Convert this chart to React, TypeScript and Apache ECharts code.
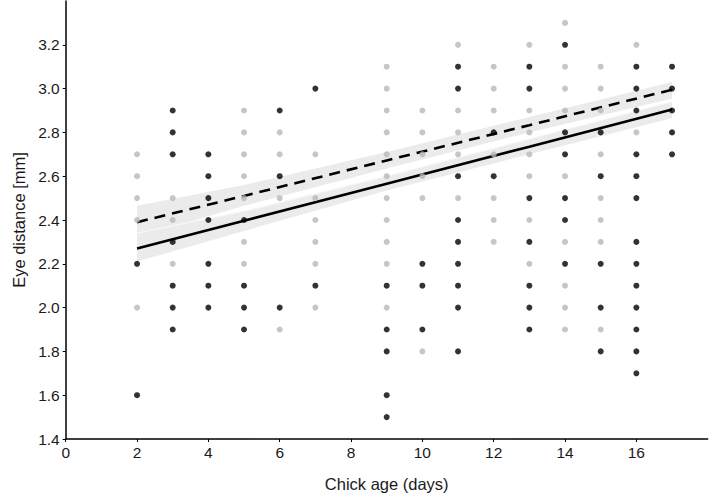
import React, { useEffect, useRef } from "react";
import * as echarts from "echarts";

// Chick age (days) for each column of points
const days = [2, 3, 4, 5, 6, 7, 9, 10, 11, 12, 13, 14, 15, 16, 17];

// Eye distance values (mm), black group, per day
const blackValues: number[][] = [
  [2.2, 1.6],
  [2.9, 2.8, 2.7, 2.3, 2.1, 2.0, 1.9],
  [2.7, 2.6, 2.5, 2.4, 2.2, 2.1, 2.0],
  [2.4, 2.1, 2.0, 1.9],
  [2.9, 2.6, 2.0],
  [3.0, 2.1],
  [2.1, 1.9, 1.8, 1.6, 1.5],
  [2.2, 2.1, 1.9],
  [3.1, 3.0, 2.6, 2.4, 2.3, 2.2, 2.1, 2.0, 1.8],
  [2.8, 2.6],
  [3.1, 3.0, 2.5, 2.3, 2.1, 2.0, 1.9],
  [3.2, 2.8, 2.7, 2.5, 2.4, 2.2],
  [2.8, 2.6, 2.2, 2.0, 1.8],
  [3.1, 3.0, 2.9, 2.7, 2.6, 2.5, 2.3, 2.2, 2.1, 2.0, 1.9, 1.8, 1.7],
  [3.1, 3.0, 2.9, 2.8, 2.7],
];

// Eye distance values (mm), grey group, per day
const greyValues: number[][] = [
  [2.7, 2.6, 2.5, 2.4, 2.0],
  [2.5, 2.4, 2.2],
  [],
  [2.9, 2.8, 2.7, 2.6, 2.5, 2.3, 2.2],
  [2.8, 2.7, 2.5, 1.9],
  [2.7, 2.5, 2.4, 2.3, 2.2, 2.0],
  [3.1, 3.0, 2.9, 2.8, 2.7, 2.6, 2.5, 2.4, 2.3, 2.2, 2.0],
  [2.9, 2.8, 2.7, 2.6, 2.5, 1.8],
  [3.2, 2.9, 2.8, 2.7, 2.5],
  [3.1, 3.0, 2.9, 2.7, 2.5, 2.4, 2.3],
  [3.2, 2.9, 2.8, 2.7, 2.6, 2.4, 2.2],
  [3.3, 3.1, 3.0, 2.9, 2.6, 2.3, 2.1, 2.0, 1.9],
  [3.1, 3.0, 2.9, 2.7, 2.5, 2.4, 2.3, 1.9],
  [3.2, 2.8],
  [],
];

// Fitted lines and confidence bands
const fitX = [2, 5, 9, 13, 17];
const solidFit = [2.27, 2.397, 2.566, 2.735, 2.905];
const solidLow = [2.21, 2.35, 2.535, 2.7, 2.865];
const solidHigh = [2.34, 2.44, 2.6, 2.77, 2.94];
const dashedFit = [2.39, 2.51, 2.672, 2.833, 2.995];
const dashedLow = [2.32, 2.465, 2.635, 2.8, 2.955];
const dashedHigh = [2.465, 2.56, 2.71, 2.87, 3.03];

const xTicks = [0, 2, 4, 6, 8, 10, 12, 14, 16];
const yTicks = [1.4, 1.6, 1.8, 2.0, 2.2, 2.4, 2.6, 2.8, 3.0, 3.2];

const FONT = "'Liberation Sans', Arial, sans-serif";

function toPoints(vals: number[][]): number[][] {
  const out: number[][] = [];
  vals.forEach((col, i) => col.forEach((v) => out.push([days[i], v])));
  return out;
}

function bandSeries(low: number[], high: number[], color: string) {
  return {
    type: "custom",
    silent: true,
    z: 1,
    data: [0],
    renderItem: (_params: any, api: any) => {
      const pts: number[][] = [];
      fitX.forEach((x, i) => pts.push(api.coord([x, high[i]])));
      for (let i = fitX.length - 1; i >= 0; i--) pts.push(api.coord([fitX[i], low[i]]));
      return { type: "polygon", shape: { points: pts }, style: { fill: color } };
    },
  };
}

export default function App() {
  const ref = useRef<HTMLDivElement>(null);
  useEffect(() => {
    if (!ref.current) return;
    const chart = echarts.init(ref.current, null, { renderer: "svg" });
    const axisCommon = {
      axisLine: { show: true, lineStyle: { color: "#000", width: 1.5 } },
      splitLine: { show: false },
      nameTextStyle: { fontFamily: FONT, fontSize: 16.5, color: "#1a1a1a" },
    };
    chart.setOption({
      animation: false,
      backgroundColor: "#fff",
      grid: { left: 65.7, top: 1, width: 642, height: 438, containLabel: false },
      xAxis: {
        ...axisCommon,
        type: "value",
        min: 0,
        max: 18,
        interval: 2,
        name: "Chick age (days)",
        nameLocation: "middle",
        nameGap: 36,
        axisTick: { show: true, length: 3, customValues: xTicks, lineStyle: { color: "#000" } },
        axisLabel: {
          customValues: xTicks,
          fontFamily: FONT,
          fontSize: 15.5,
          color: "#1a1a1a",
          margin: 5,
        },
      },
      yAxis: {
        ...axisCommon,
        type: "value",
        min: 1.4,
        max: 3.4,
        interval: 0.2,
        name: "Eye distance [mm]",
        nameLocation: "middle",
        nameGap: 38,
        axisTick: { show: true, length: 3, customValues: yTicks, lineStyle: { color: "#000" } },
        axisLabel: {
          customValues: yTicks,
          fontFamily: FONT,
          fontSize: 15.5,
          color: "#1a1a1a",
          margin: 6,
          formatter: (v: number) => v.toFixed(1),
        },
      },
      series: [
        bandSeries(dashedLow, dashedHigh, "#ebebeb"),
        bandSeries(solidLow, solidHigh, "#ebebeb"),
        {
          type: "line",
          data: fitX.map((x, i) => [x, solidHigh[i]]),
          symbol: "none",
          silent: true,
          z: 2,
          lineStyle: { color: "#f7f7f7", width: 1.2 },
        },
        {
          type: "line",
          data: fitX.map((x, i) => [x, solidFit[i]]),
          symbol: "none",
          silent: true,
          z: 3,
          lineStyle: { color: "#000", width: 2.6 },
        },
        {
          type: "line",
          data: fitX.map((x, i) => [x, dashedFit[i]]),
          symbol: "none",
          silent: true,
          z: 3,
          lineStyle: { color: "#000", width: 2.6, type: [11, 7] },
        },
        {
          type: "scatter",
          data: toPoints(greyValues),
          symbol: "circle",
          symbolSize: 6,
          z: 4,
          itemStyle: { color: "#b8b8b8" },
        },
        {
          type: "scatter",
          data: toPoints(blackValues),
          symbol: "circle",
          symbolSize: 6,
          z: 5,
          itemStyle: { color: "#000" },
        },
      ],
    });
    return () => chart.dispose();
  }, []);
  return (
    <div
      ref={ref}
      style={{ position: "absolute", left: 0, top: 0, width: 709, height: 497 }}
    />
  );
}
